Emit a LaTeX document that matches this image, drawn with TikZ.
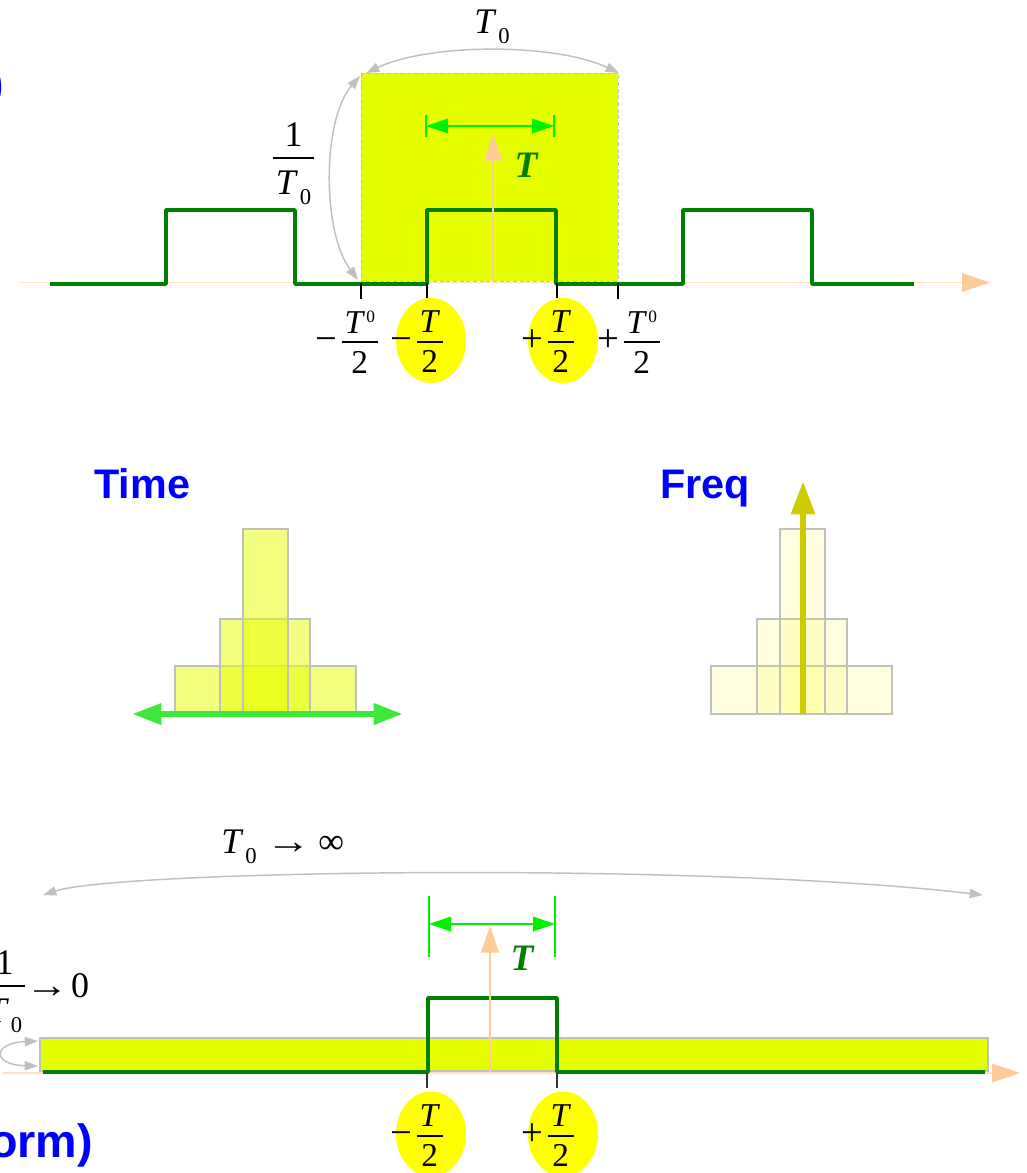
\documentclass[tikz,border=0pt]{standalone}
\usepackage{fontspec}
\setmainfont{Liberation Serif}
\newfontfamily\sansf{Liberation Sans}
\usetikzlibrary{arrows.meta}
\definecolor{peach}{HTML}{FFCC99}
\definecolor{axisc}{HTML}{FFE2C6}
\definecolor{ylw}{HTML}{E6FF00}
\definecolor{dgreen}{HTML}{008000}
\definecolor{bgreen}{HTML}{00F000}
\definecolor{arcgray}{HTML}{C0C0C0}
\definecolor{tgreen}{HTML}{3DE83D}
\definecolor{olivey}{HTML}{CCCC00}
\definecolor{bluet}{HTML}{0000FF}
\definecolor{ellyel}{HTML}{FFFF00}
% fraction: #1 numerator, #2 denominator, #3 num-baseline to bar, #4 bar to den-baseline
\newcommand{\fr}[4]{{\renewcommand{\arraystretch}{0}\setlength{\arrayrulewidth}{1.4pt}%
\begin{tabular}{@{\hspace{2pt}}c@{\hspace{2pt}}}\rule[-#3]{0pt}{#3}#1\\\hline\rule{0pt}{#4}#2\end{tabular}}}
\newcommand{\Tsub}{\textit{T}\kern1.5pt\raisebox{-7.5pt}{\fontsize{17}{17}\selectfont 0}}
\newcommand{\Tsup}{\textit{T}\kern1pt\raisebox{8pt}{\fontsize{13}{13}\selectfont 0}}
\newcommand{\sgn}[1]{\raisebox{-1.2pt}{\fontsize{29}{29}\selectfont #1}\kern3.5pt}
\begin{document}
\begin{tikzpicture}[x=0.75pt,y=-0.75pt,
  axisln/.style={draw=axisc, line width=1.1pt, -{Triangle[length=21pt,width=14pt,color=peach]}},
  pulse/.style={draw=dgreen, line width=2.6pt, line join=round},
  peacharr/.style={draw=peach, line width=0.8pt, -{Triangle[length=20pt,width=13.5pt,color=peach]}},
  tarr/.style={draw=bgreen, line width=0.9pt, {Triangle[length=16.5pt,width=11pt]}-{Triangle[length=16.5pt,width=11pt]}},
  tbar/.style={draw=bgreen, line width=0.8pt},
  tickm/.style={draw=black, line width=0.8pt},
  arcarr/.style={draw=arcgray, line width=1.1pt, {Triangle[length=10pt,width=7pt]}-{Triangle[length=10pt,width=7pt]}},
  lab/.style={inner sep=0pt, font=\fontsize{25}{30}\selectfont},
  labbig/.style={inner sep=0pt, font=\fontsize{27}{32}\selectfont},
  tlab/.style={inner sep=0pt, text=dgreen, font=\fontsize{28}{32}\selectfont\bfseries\itshape},
  sanslab/.style={inner sep=0pt, text=bluet, font=\sansf\fontsize{31}{36}\selectfont\bfseries},
  trect/.style={fill={ylw}, fill opacity=0.5, draw=arcgray, line width=1.1pt},
  frect/.style={fill=ellyel, fill opacity=0.12, draw=arcgray, line width=1.1pt},
  timearr/.style={draw=tgreen, line width=4.8pt, {Triangle[length=22pt,width=15pt]}-{Triangle[length=22pt,width=15pt]}},
  freqarr/.style={draw=olivey, line width=5pt, -{Triangle[length=25pt,width=17pt]}},
  ellip/.style={fill=ellyel}
]
\useasboundingbox (0,0) rectangle (1026,1173);

% ================= TOP =================
\node[inner sep=0pt, text=bluet, font=\sansf\fontsize{35}{40}\selectfont\bfseries, anchor=base east] (topblue) at (4,100) {)};

\fill[ylw] (361,73) rectangle (618,281);
\draw[arcgray, line width=0.6pt, dash pattern=on 3pt off 2pt] (361,73) rectangle (618,281);

\coordinate (ax1) at (18,282.5);
\coordinate (ax2) at (990,282.5);
\draw[axisln] (ax1) -- (ax2);

\draw[pulse] (50,284) -- (166,284) -- (166,210) -- (295,210) -- (295,284) -- (427,284) -- (427,210) -- (556,210) -- (556,284) -- (683,284) -- (683,210) -- (812,210) -- (812,284) -- (914,284);

\coordinate (pa1) at (493,282);
\coordinate (pa2) at (493,134);
\draw[peacharr] (pa1) -- (pa2);

\coordinate (ga1) at (426,126);
\coordinate (ga2) at (554,126);
\draw[tarr] (ga1) -- (ga2);
\draw[tbar] (426,115) -- (426,137);
\draw[tbar] (554,115) -- (554,137);
\node[tlab] (Ttop) at (526,165) {T};

\coordinate (a1) at (366,73);
\coordinate (a2) at (619,73);
\draw[arcarr] (a1) .. controls (430,43) and (555,43) .. (a2);
\coordinate (b1) at (360,76);
\coordinate (b2) at (358,280);
\draw[arcarr] (b1) .. controls (322,120) and (322,232) .. (b2);

\node[labbig, anchor=base west] (t0top) at (474,34) {\Tsub};
\node[labbig] (f1top) at (293.5,163.5) {\fr{1}{\Tsub}{8pt}{27pt}};

\draw[tickm] (361,283) -- (361,299);
\draw[tickm] (427,283) -- (427,298);
\draw[tickm] (557,283) -- (557,298);
\draw[tickm] (618,283) -- (618,299);

\fill[ellip] (431,340.5) ellipse [x radius=35, y radius=42.5];
\fill[ellip] (563,340.5) ellipse [x radius=35, y radius=42.5];

\node[lab, anchor=east] (m1) at (378,342) {\sgn{−}\fr{\Tsup}{2}{6pt}{22.5pt}};
\node[lab, anchor=east] (m2) at (443,342) {\sgn{−}\fr{\textit{T}}{2}{6pt}{22.5pt}};
\node[lab, anchor=east] (m3) at (574,342) {\sgn{+}\fr{\textit{T}}{2}{6pt}{22.5pt}};
\node[lab, anchor=east] (m4) at (660,342) {\sgn{+}\fr{\Tsup}{2}{6pt}{22.5pt}};

% ================= MIDDLE =================
\node[sanslab, anchor=base west] (time) at (94,498) {Time};
\node[sanslab, anchor=base west] (freq) at (660,498) {Freq};

\path[trect] (175,666) rectangle (356,712);
\path[trect] (220,619) rectangle (310,712);
\path[trect] (243,529) rectangle (288,712);
\coordinate (ta1) at (132,714);
\coordinate (ta2) at (403,714);
\draw[timearr] (ta1) -- (ta2);

\path[frect] (711,666) rectangle (892,714);
\path[frect] (757,619) rectangle (847,714);
\path[frect] (780,529) rectangle (825,714);
\coordinate (fa1) at (803,714);
\coordinate (fa2) at (803,481);
\draw[freqarr] (fa1) -- (fa2);

% ================= BOTTOM =================
\node[labbig, anchor=base west] (t0inf) at (221,853) {\Tsub~\scalebox{1.25}[1]{→}\kern-1pt~∞};
\coordinate (c1) at (43,895);
\coordinate (c2) at (983,895);
\draw[arcarr] (c1) .. controls (120,870) and (700,862) .. (c2);

\coordinate (bx1) at (3,1073);
\coordinate (bx2) at (1020,1073);
\draw[axisln] (bx1) -- (bx2);

\filldraw[fill=ylw, draw=arcgray, line width=0.8pt] (40,1038) rectangle (988,1071);

\draw[pulse] (43,1072) -- (428,1072) -- (428,998) -- (557,998) -- (557,1072) -- (985,1072);

\coordinate (pb1) at (490,1072);
\coordinate (pb2) at (490,926);
\draw[peacharr] (pb1) -- (pb2);

\coordinate (gb1) at (429,924);
\coordinate (gb2) at (555,924);
\draw[tarr] (gb1) -- (gb2);
\draw[tbar] (429,896) -- (429,957);
\draw[tbar] (555,896) -- (555,957);
\node[tlab] (Tbot) at (522,958) {T};

\coordinate (l1) at (38,1041);
\coordinate (l2) at (38,1066);
\draw[arcarr] (l1) .. controls (-8,1043) and (-8,1065) .. (l2);

\node[labbig] (f1bot) at (4.5,991.5) {\fr{1}{\Tsub}{8pt}{27pt}};
\node[labbig, anchor=base west] (to0) at (25,997) {\scalebox{1.2}[1]{→}\kern2pt 0};

\draw[tickm, draw=black!80] (427,1073) -- (427,1088);
\draw[tickm, draw=black!80] (557,1073) -- (557,1088);

\fill[ellip] (431,1134) ellipse [x radius=35, y radius=42.5];
\fill[ellip] (563,1134) ellipse [x radius=35, y radius=42.5];
\node[lab, anchor=east] (n1) at (443,1136) {\sgn{−}\fr{\textit{T}}{2}{6pt}{22.5pt}};
\node[lab, anchor=east] (n2) at (574,1136) {\sgn{+}\fr{\textit{T}}{2}{6pt}{22.5pt}};

\node[inner sep=0pt, text=bluet, font=\sansf\fontsize{35}{40}\selectfont\bfseries, anchor=base east] (orm) at (93,1157) {orm)};
\end{tikzpicture}
\end{document}
